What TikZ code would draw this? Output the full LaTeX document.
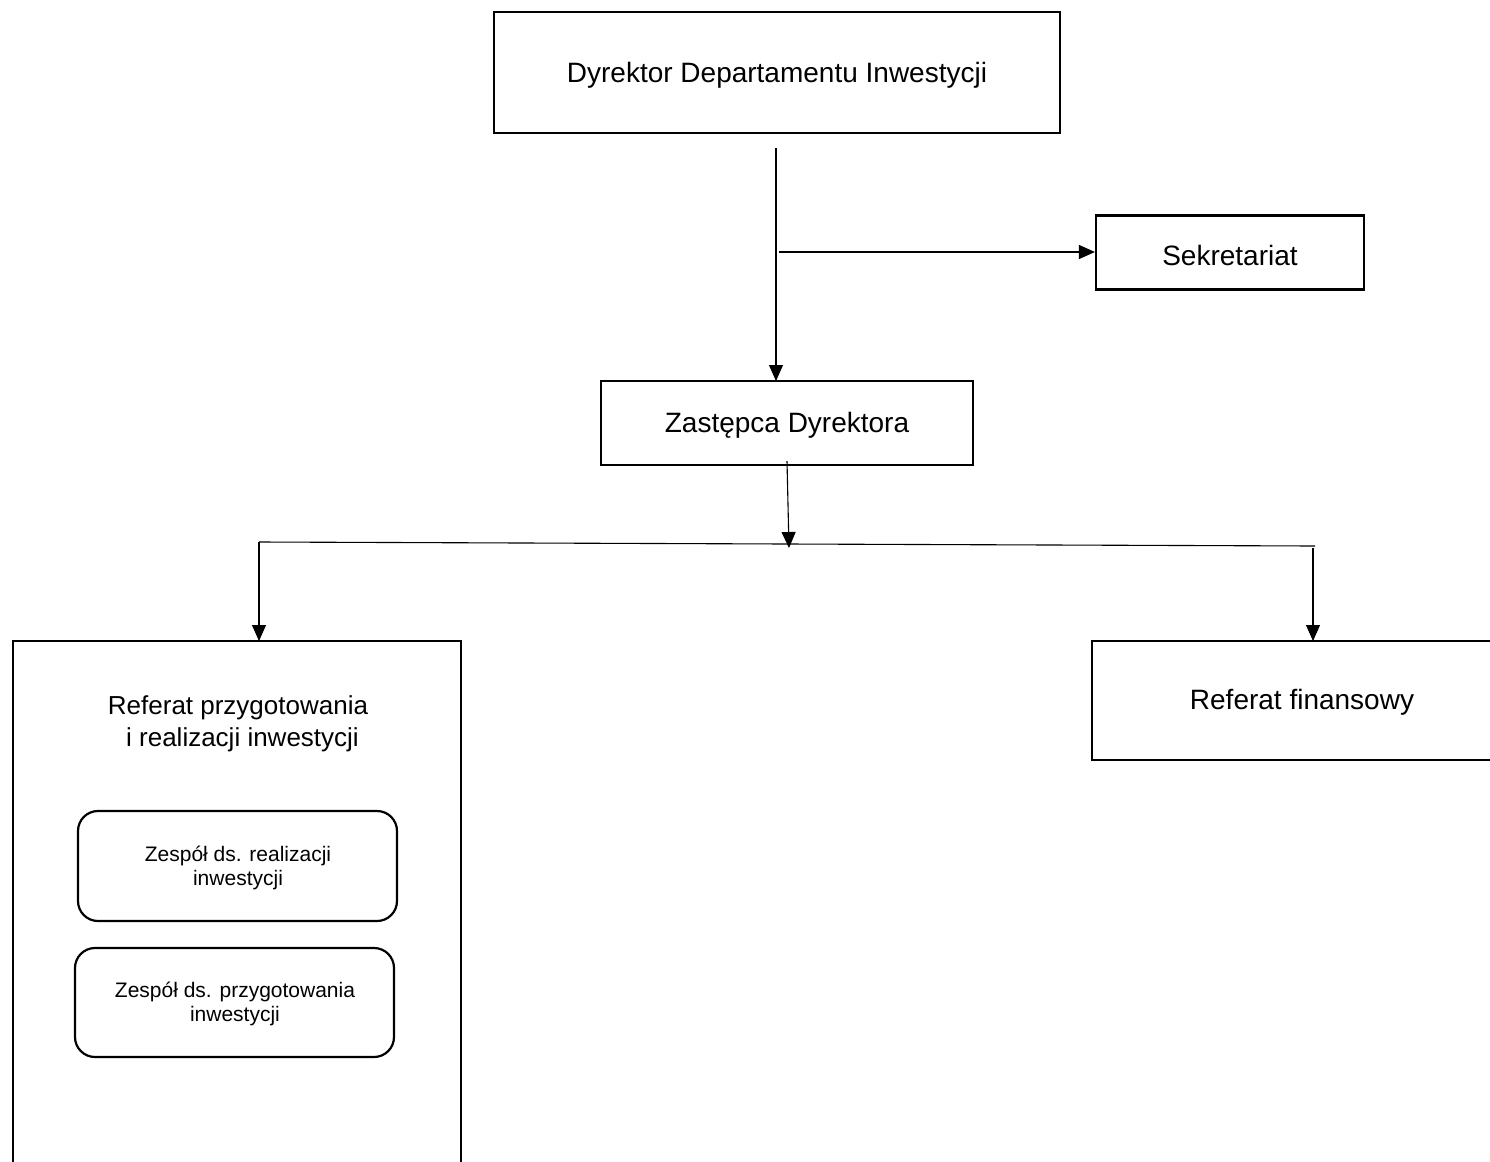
\documentclass[tikz,border=0pt]{standalone}
\usepackage{fontspec}
\setmainfont{Liberation Sans}
\usetikzlibrary{arrows.meta}
\begin{document}
\begin{tikzpicture}[x=0.5pt,y=-0.5pt,
  box/.style={draw, line width=1.1pt, inner sep=0pt, font=\fontsize{14}{16}\selectfont},
  lbl/.style={align=center, inner sep=0pt, font=\fontsize{14}{16}\selectfont},
  team/.style={draw, line width=1.1pt, rounded corners=10pt, inner sep=0pt},
  tlbl/.style={align=center, inner sep=0pt, font=\fontsize{10.5}{12}\selectfont},
  conn/.style={line width=0.55pt, -{Triangle[width=7pt,length=8pt]}},
  plain/.style={line width=0.55pt}]
\useasboundingbox (0,0) rectangle (1490,1162);
\clip (0,0) rectangle (1490,1162);
% boxes
\node[box, minimum width=283pt, minimum height=60.5pt] (dyr) at (777,72.5) {};
\node[lbl] (dyrt) at (777,75) {Dyrektor Departamentu Inwestycji};
\node[box, minimum width=134pt, minimum height=37pt] (sek) at (1230,252.5) {};
\node[lbl] (sekt) at (1230,255) {Sekretariat};
\node[box, minimum width=186pt, minimum height=42pt] (zas) at (787,423) {};
\node[lbl] (zast) at (787,425) {Zastępca Dyrektora};
\node[box, minimum width=224pt, minimum height=300pt] (ref1) at (237,941) {};
\node[lbl, font=\fontsize{13}{16}\selectfont] (ref1t) at (238,724) {Referat przygotowania\\\hspace*{4.5pt}i realizacji inwestycji};
\node[box, minimum width=210pt, minimum height=59.5pt] (ref2) at (1302,700.5) {};
\node[lbl] (ref2t) at (1302,702) {Referat finansowy};
\node[team, minimum width=159.5pt, minimum height=55pt] (z1) at (237.5,866) {};
\node[tlbl] (z1t) at (238,868) {Zespół ds. realizacji\\inwestycji};
\node[team, minimum width=159.5pt, minimum height=54.5pt] (z2) at (234.5,1002.5) {};
\node[tlbl] (z2t) at (235,1004) {Zespół ds. przygotowania\\inwestycji};
% connector points
\coordinate (a0) at (776,148);
\coordinate (a1) at (776,381);
\coordinate (b0) at (779,252);
\coordinate (c0) at (787,461);
\coordinate (c1) at (789,548);
\coordinate (hl) at (259,542);
\coordinate (hr) at (1315,546);
\coordinate (l1) at (259,641);
\coordinate (r0) at (1313,548);
\coordinate (r1) at (1313,641);
% connectors
\draw[conn] (a0) -- (a1);
\draw[conn] (b0) -- (b0 -| sek.west);
\draw[conn] (c0) -- (c1);
\draw[plain] (hl) -- (hr);
\draw[conn] (hl) -- (l1);
\draw[conn] (r0) -- (r1);
\end{tikzpicture}
\end{document}
